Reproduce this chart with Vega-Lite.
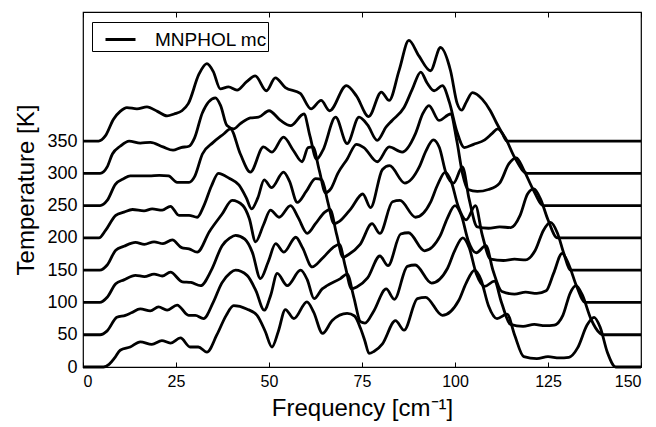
{
"$schema": "https://vega.github.io/schema/vega-lite/v6.json",
"width": 558, "height": 355,
"autosize": {"type": "none"},
"padding": {"left": 83, "top": 12, "right": 15, "bottom": 60},
"config": {
  "view": {"stroke": "black", "strokeWidth": 1.2},
  "font": "Liberation Sans",
  "axis": {"grid": false, "domain": false, "tickColor": "black", "labelColor": "black", "titleColor": "black", "titleFontWeight": "normal", "labelFont": "Liberation Sans", "titleFont": "Liberation Sans", "titleFontSize": 24, "tickWidth": 1}
},
"data": {"values": [
{"T":0,"f":0,"v":0},{"T":0,"f":5.5,"v":0},{"T":0,"f":7,"v":4},{"T":0,"f":8.5,"v":14},{"T":0,"f":10,"v":26},{"T":0,"f":12.7,"v":31},{"T":0,"f":15.4,"v":39},{"T":0,"f":18.5,"v":35},{"T":0,"f":21.2,"v":41},{"T":0,"f":23.5,"v":37},{"T":0,"f":26.2,"v":45},{"T":0,"f":28.8,"v":31},{"T":0,"f":31,"v":31},{"T":0,"f":33.3,"v":23},{"T":0,"f":36,"v":50},{"T":0,"f":38.5,"v":80},{"T":0,"f":40.5,"v":95},{"T":0,"f":44,"v":90},{"T":0,"f":46.8,"v":80},{"T":0,"f":49,"v":55},{"T":0,"f":50.8,"v":31},{"T":0,"f":52.5,"v":55},{"T":0,"f":54.4,"v":89},{"T":0,"f":56.7,"v":75},{"T":0,"f":60.2,"v":101},{"T":0,"f":62,"v":85},{"T":0,"f":64.4,"v":52},{"T":0,"f":67,"v":72},{"T":0,"f":71,"v":83},{"T":0,"f":73,"v":79},{"T":0,"f":74.6,"v":60},{"T":0,"f":75.8,"v":40},{"T":0,"f":76.9,"v":21},{"T":0,"f":78.2,"v":24},{"T":0,"f":80.5,"v":36},{"T":0,"f":84,"v":72},{"T":0,"f":86.3,"v":57},{"T":0,"f":89.9,"v":106},{"T":0,"f":92.1,"v":108},{"T":0,"f":96.6,"v":80},{"T":0,"f":101,"v":103},{"T":0,"f":103,"v":130},{"T":0,"f":105.3,"v":150},{"T":0,"f":107,"v":135},{"T":0,"f":109,"v":95},{"T":0,"f":111.3,"v":75},{"T":0,"f":114,"v":82},{"T":0,"f":116,"v":50},{"T":0,"f":118.5,"v":16},{"T":0,"f":122,"v":13},{"T":0,"f":125,"v":16},{"T":0,"f":128,"v":14},{"T":0,"f":130.6,"v":15},{"T":0,"f":133,"v":30},{"T":0,"f":135.5,"v":65},{"T":0,"f":137.4,"v":77},{"T":0,"f":139,"v":62},{"T":0,"f":141,"v":22},{"T":0,"f":143.2,"v":0},{"T":0,"f":150,"v":0},
{"T":50,"f":0,"v":50},{"T":50,"f":4.6,"v":50},{"T":50,"f":6.5,"v":56},{"T":50,"f":9.1,"v":77},{"T":50,"f":11.4,"v":80},{"T":50,"f":13,"v":84},{"T":50,"f":15.4,"v":90},{"T":50,"f":18.1,"v":87},{"T":50,"f":20.3,"v":93},{"T":50,"f":22.6,"v":88},{"T":50,"f":25.3,"v":96},{"T":50,"f":28.4,"v":80},{"T":50,"f":30.2,"v":80},{"T":50,"f":32.4,"v":75},{"T":50,"f":35,"v":100},{"T":50,"f":37.3,"v":130},{"T":50,"f":39.6,"v":146},{"T":50,"f":41,"v":150},{"T":50,"f":44.1,"v":142},{"T":50,"f":46.5,"v":118},{"T":50,"f":48.7,"v":88},{"T":50,"f":50.5,"v":112},{"T":50,"f":52.2,"v":145},{"T":50,"f":54.9,"v":126},{"T":50,"f":58.5,"v":150},{"T":50,"f":60.3,"v":135},{"T":50,"f":62.1,"v":106},{"T":50,"f":64.3,"v":121},{"T":50,"f":65.6,"v":126},{"T":50,"f":69.2,"v":137},{"T":50,"f":71,"v":144},{"T":50,"f":72.8,"v":108},{"T":50,"f":74.6,"v":70},{"T":50,"f":75.8,"v":68},{"T":50,"f":78.1,"v":86},{"T":50,"f":81.5,"v":121},{"T":50,"f":83.7,"v":105},{"T":50,"f":87.2,"v":156},{"T":50,"f":89.3,"v":158},{"T":50,"f":93.7,"v":130},{"T":50,"f":98,"v":153},{"T":50,"f":99.9,"v":180},{"T":50,"f":102.1,"v":200},{"T":50,"f":103.8,"v":185},{"T":50,"f":105.7,"v":145},{"T":50,"f":108,"v":125},{"T":50,"f":110.6,"v":133},{"T":50,"f":112.5,"v":100},{"T":50,"f":114.9,"v":66},{"T":50,"f":118.3,"v":63},{"T":50,"f":121.3,"v":66},{"T":50,"f":124.2,"v":64},{"T":50,"f":126.7,"v":65},{"T":50,"f":129,"v":80},{"T":50,"f":131,"v":115},{"T":50,"f":132.5,"v":126},{"T":50,"f":134.2,"v":112},{"T":50,"f":136.5,"v":75},{"T":50,"f":139,"v":52},{"T":50,"f":139.6,"v":50},{"T":50,"f":150,"v":50},
{"T":100,"f":0,"v":100},{"T":100,"f":4.5,"v":100},{"T":100,"f":6.5,"v":108},{"T":100,"f":8.8,"v":129},{"T":100,"f":11,"v":135},{"T":100,"f":14.1,"v":142},{"T":100,"f":16.5,"v":140},{"T":100,"f":19.1,"v":144},{"T":100,"f":21.3,"v":141},{"T":100,"f":23.5,"v":147},{"T":100,"f":26.7,"v":132},{"T":100,"f":29,"v":131},{"T":100,"f":31.6,"v":126},{"T":100,"f":34.5,"v":150},{"T":100,"f":37.4,"v":188},{"T":100,"f":39.5,"v":200},{"T":100,"f":41,"v":204},{"T":100,"f":43.5,"v":198},{"T":100,"f":45.5,"v":178},{"T":100,"f":47.7,"v":137},{"T":100,"f":49.8,"v":163},{"T":100,"f":51.8,"v":191},{"T":100,"f":54,"v":178},{"T":100,"f":57.2,"v":201},{"T":100,"f":59,"v":185},{"T":100,"f":61.6,"v":155},{"T":100,"f":64.3,"v":168},{"T":100,"f":67.2,"v":185},{"T":100,"f":68.9,"v":190},{"T":100,"f":70.5,"v":156},{"T":100,"f":72.2,"v":121},{"T":100,"f":73.6,"v":124},{"T":100,"f":76.5,"v":138},{"T":100,"f":79.8,"v":172},{"T":100,"f":82,"v":157},{"T":100,"f":85.4,"v":206},{"T":100,"f":87.5,"v":208},{"T":100,"f":91.8,"v":180},{"T":100,"f":96,"v":203},{"T":100,"f":97.9,"v":230},{"T":100,"f":100,"v":250},{"T":100,"f":101.7,"v":235},{"T":100,"f":103.6,"v":195},{"T":100,"f":105.7,"v":177},{"T":100,"f":108.3,"v":188},{"T":100,"f":110.2,"v":150},{"T":100,"f":112.6,"v":117},{"T":100,"f":116,"v":113},{"T":100,"f":119,"v":116},{"T":100,"f":122,"v":114},{"T":100,"f":124.5,"v":118},{"T":100,"f":126.5,"v":145},{"T":100,"f":128.8,"v":176},{"T":100,"f":130.5,"v":160},{"T":100,"f":132.7,"v":125},{"T":100,"f":135,"v":100},{"T":100,"f":150,"v":100},
{"T":150,"f":0,"v":150},{"T":150,"f":4.5,"v":150},{"T":150,"f":6.5,"v":158},{"T":150,"f":8.8,"v":181},{"T":150,"f":11,"v":187},{"T":150,"f":14.1,"v":193},{"T":150,"f":16.5,"v":190},{"T":150,"f":19.1,"v":194},{"T":150,"f":21.5,"v":191},{"T":150,"f":24,"v":197},{"T":150,"f":26.5,"v":185},{"T":150,"f":28.5,"v":183},{"T":150,"f":30.7,"v":178},{"T":150,"f":34,"v":210},{"T":150,"f":37.4,"v":237},{"T":150,"f":40.1,"v":258},{"T":150,"f":43,"v":250},{"T":150,"f":44.7,"v":230},{"T":150,"f":46.4,"v":194},{"T":150,"f":48.5,"v":220},{"T":150,"f":50.4,"v":243},{"T":150,"f":52.7,"v":232},{"T":150,"f":55.8,"v":250},{"T":150,"f":57.8,"v":232},{"T":150,"f":60.3,"v":207},{"T":150,"f":62.5,"v":222},{"T":150,"f":65,"v":240},{"T":150,"f":66.4,"v":244},{"T":150,"f":68.2,"v":205},{"T":150,"f":69.9,"v":170},{"T":150,"f":71.3,"v":174},{"T":150,"f":74.5,"v":190},{"T":150,"f":77.7,"v":222},{"T":150,"f":79.8,"v":207},{"T":150,"f":83.2,"v":256},{"T":150,"f":85.2,"v":258},{"T":150,"f":89.4,"v":232},{"T":150,"f":93.4,"v":255},{"T":150,"f":95.3,"v":282},{"T":150,"f":97.4,"v":302},{"T":150,"f":99,"v":287},{"T":150,"f":100.8,"v":250},{"T":150,"f":103,"v":228},{"T":150,"f":105.5,"v":250},{"T":150,"f":107.3,"v":205},{"T":150,"f":109.6,"v":167},{"T":150,"f":113,"v":165},{"T":150,"f":116,"v":167},{"T":150,"f":119,"v":166},{"T":150,"f":121.5,"v":180},{"T":150,"f":123.8,"v":212},{"T":150,"f":125.7,"v":224},{"T":150,"f":127.5,"v":208},{"T":150,"f":129.3,"v":175},{"T":150,"f":131,"v":150},{"T":150,"f":150,"v":150},
{"T":200,"f":0,"v":200},{"T":200,"f":4.3,"v":200},{"T":200,"f":6.1,"v":212},{"T":200,"f":8.8,"v":235},{"T":200,"f":11,"v":240},{"T":200,"f":13.3,"v":244},{"T":200,"f":16.4,"v":242},{"T":200,"f":18.6,"v":245},{"T":200,"f":21.3,"v":243},{"T":200,"f":23.5,"v":249},{"T":200,"f":25.8,"v":235},{"T":200,"f":28.5,"v":235},{"T":200,"f":30.7,"v":232},{"T":200,"f":32.5,"v":250},{"T":200,"f":34.5,"v":280},{"T":200,"f":36.4,"v":300},{"T":200,"f":39.4,"v":292},{"T":200,"f":41.9,"v":282},{"T":200,"f":43.9,"v":262},{"T":200,"f":45.3,"v":245},{"T":200,"f":47,"v":262},{"T":200,"f":48.7,"v":290},{"T":200,"f":50.7,"v":278},{"T":200,"f":53.9,"v":302},{"T":200,"f":55.5,"v":288},{"T":200,"f":57.6,"v":255},{"T":200,"f":60,"v":272},{"T":200,"f":62.5,"v":292},{"T":200,"f":64.2,"v":290},{"T":200,"f":65.8,"v":256},{"T":200,"f":67.5,"v":222},{"T":200,"f":69,"v":226},{"T":200,"f":72,"v":245},{"T":200,"f":75.2,"v":268},{"T":200,"f":77.3,"v":247},{"T":200,"f":80.5,"v":306},{"T":200,"f":82.4,"v":312},{"T":200,"f":86.5,"v":285},{"T":200,"f":90.4,"v":310},{"T":200,"f":92.2,"v":335},{"T":200,"f":94.2,"v":352},{"T":200,"f":95.8,"v":340},{"T":200,"f":97.6,"v":300},{"T":200,"f":99.6,"v":285},{"T":200,"f":102,"v":310},{"T":200,"f":103.8,"v":260},{"T":200,"f":106,"v":217},{"T":200,"f":109,"v":215},{"T":200,"f":112,"v":217},{"T":200,"f":115,"v":216},{"T":200,"f":117.5,"v":235},{"T":200,"f":119.5,"v":268},{"T":200,"f":121.2,"v":276},{"T":200,"f":123,"v":260},{"T":200,"f":125,"v":228},{"T":200,"f":127.5,"v":200},{"T":200,"f":150,"v":200},
{"T":250,"f":0,"v":250},{"T":250,"f":4.6,"v":250},{"T":250,"f":6.5,"v":258},{"T":250,"f":8.7,"v":283},{"T":250,"f":11,"v":292},{"T":250,"f":12.7,"v":296},{"T":250,"f":15,"v":296},{"T":250,"f":17.8,"v":296},{"T":250,"f":20.5,"v":297},{"T":250,"f":23,"v":296},{"T":250,"f":25.3,"v":286},{"T":250,"f":28.5,"v":286},{"T":250,"f":30,"v":295},{"T":250,"f":32.1,"v":330},{"T":250,"f":35,"v":348},{"T":250,"f":37.8,"v":361},{"T":250,"f":39.6,"v":369},{"T":250,"f":42.3,"v":330},{"T":250,"f":45,"v":302},{"T":250,"f":48.5,"v":341},{"T":250,"f":50.8,"v":333},{"T":250,"f":53.9,"v":356},{"T":250,"f":56.6,"v":335},{"T":250,"f":58.9,"v":318},{"T":250,"f":60.5,"v":340},{"T":250,"f":61.8,"v":341},{"T":250,"f":63.5,"v":305},{"T":250,"f":65.2,"v":270},{"T":250,"f":66.6,"v":276},{"T":250,"f":68.5,"v":300},{"T":250,"f":71,"v":322},{"T":250,"f":73.5,"v":345},{"T":250,"f":75.5,"v":340},{"T":250,"f":79.1,"v":318},{"T":250,"f":82.3,"v":341},{"T":250,"f":85.8,"v":333},{"T":250,"f":89.4,"v":362},{"T":250,"f":91.3,"v":392},{"T":250,"f":93,"v":405},{"T":250,"f":95.7,"v":382},{"T":250,"f":98.8,"v":392},{"T":250,"f":100.5,"v":350},{"T":250,"f":102,"v":300},{"T":250,"f":103.5,"v":275},{"T":250,"f":106,"v":272},{"T":250,"f":109,"v":275},{"T":250,"f":112,"v":285},{"T":250,"f":114.5,"v":315},{"T":250,"f":116.5,"v":324},{"T":250,"f":118.5,"v":305},{"T":250,"f":121,"v":275},{"T":250,"f":123.8,"v":250},{"T":250,"f":150,"v":250},
{"T":300,"f":0,"v":300},{"T":300,"f":4.6,"v":300},{"T":300,"f":6.5,"v":310},{"T":300,"f":7.9,"v":330},{"T":300,"f":10,"v":342},{"T":300,"f":12.4,"v":350},{"T":300,"f":15.4,"v":347},{"T":300,"f":18.1,"v":348},{"T":300,"f":21.5,"v":341},{"T":300,"f":24.2,"v":336},{"T":300,"f":26.3,"v":340},{"T":300,"f":28.5,"v":342},{"T":300,"f":30,"v":355},{"T":300,"f":32.1,"v":394},{"T":300,"f":35.6,"v":417},{"T":300,"f":37,"v":405},{"T":300,"f":38.7,"v":374},{"T":300,"f":40.5,"v":369},{"T":300,"f":42.3,"v":377},{"T":300,"f":45,"v":386},{"T":300,"f":47.2,"v":387},{"T":300,"f":50,"v":397},{"T":300,"f":53.1,"v":382},{"T":300,"f":55.8,"v":374},{"T":300,"f":59.4,"v":392},{"T":300,"f":61,"v":358},{"T":300,"f":62.8,"v":322},{"T":300,"f":64.5,"v":336},{"T":300,"f":67.9,"v":387},{"T":300,"f":71,"v":346},{"T":300,"f":74.2,"v":387},{"T":300,"f":76.5,"v":375},{"T":300,"f":79.1,"v":351},{"T":300,"f":81.5,"v":372},{"T":300,"f":83.1,"v":382},{"T":300,"f":86.3,"v":402},{"T":300,"f":88.5,"v":430},{"T":300,"f":90.8,"v":457},{"T":300,"f":92.5,"v":440},{"T":300,"f":94.4,"v":428},{"T":300,"f":96.6,"v":436},{"T":300,"f":98.5,"v":410},{"T":300,"f":100.5,"v":365},{"T":300,"f":102.5,"v":340},{"T":300,"f":105,"v":345},{"T":300,"f":108,"v":352},{"T":300,"f":110,"v":362},{"T":300,"f":111.5,"v":369},{"T":300,"f":113.5,"v":355},{"T":300,"f":116,"v":325},{"T":300,"f":119.4,"v":300},{"T":300,"f":150,"v":300},
{"T":350,"f":0,"v":350},{"T":350,"f":4.2,"v":350},{"T":350,"f":6,"v":358},{"T":350,"f":8.2,"v":384},{"T":350,"f":10,"v":396},{"T":350,"f":11.8,"v":402},{"T":350,"f":14.5,"v":400},{"T":350,"f":17.2,"v":403},{"T":350,"f":20,"v":396},{"T":350,"f":22.6,"v":389},{"T":350,"f":24.5,"v":392},{"T":350,"f":26.6,"v":397},{"T":350,"f":28.3,"v":408},{"T":350,"f":31.2,"v":454},{"T":350,"f":33.3,"v":470},{"T":350,"f":35,"v":458},{"T":350,"f":36.9,"v":431},{"T":350,"f":39.1,"v":434},{"T":350,"f":41.4,"v":429},{"T":350,"f":44,"v":442},{"T":350,"f":46.3,"v":451},{"T":350,"f":49.3,"v":428},{"T":350,"f":51.7,"v":448},{"T":350,"f":54.4,"v":433},{"T":350,"f":58.4,"v":424},{"T":350,"f":61.3,"v":400},{"T":350,"f":64,"v":413},{"T":350,"f":66.3,"v":397},{"T":350,"f":70.8,"v":436},{"T":350,"f":73.5,"v":420},{"T":350,"f":76.8,"v":388},{"T":350,"f":80.2,"v":426},{"T":350,"f":82.3,"v":413},{"T":350,"f":85,"v":460},{"T":350,"f":87.6,"v":506},{"T":350,"f":90.3,"v":482},{"T":350,"f":93.4,"v":459},{"T":350,"f":96.1,"v":495},{"T":350,"f":98.8,"v":459},{"T":350,"f":100.6,"v":408},{"T":350,"f":101.8,"v":398},{"T":350,"f":103,"v":410},{"T":350,"f":104.7,"v":425},{"T":350,"f":107.3,"v":415},{"T":350,"f":109.5,"v":397},{"T":350,"f":111,"v":380},{"T":350,"f":112.7,"v":362},{"T":350,"f":114,"v":350},{"T":350,"f":150,"v":350}
]},
"layer": [
  {
    "mark": {"type": "line", "interpolate": "monotone", "strokeWidth": 2.8},
    "encoding": {
      "x": {"field": "f", "type": "quantitative", "scale": {"domain": [0, 150], "nice": false},
            "axis": {"orient": "bottom", "values": [0, 25, 50, 75, 100, 125, 150], "tickSize": -5, "labelPadding": 11, "labelFontSize": 16, "title": "Frequency [cm⁻¹]", "titlePadding": 7}},
      "y": {"field": "v", "type": "quantitative", "scale": {"domain": [0, 550], "nice": false},
            "axis": {"values": [0, 50, 100, 150, 200, 250, 300, 350], "tickSize": -5, "labelPadding": 11, "labelFontSize": 18, "title": "Temperature [K]", "titlePadding": 8}},
      "detail": {"field": "T", "type": "nominal"},
      "color": {"datum": "MNPHOL mc", "scale": {"range": ["black"]},
                "legend": {"orient": "none", "legendX": 9, "legendY": 10, "title": null, "strokeColor": "black", "fillColor": "white", "padding": 1, "symbolOffset": 11, "symbolType": "stroke", "symbolStrokeWidth": 3, "symbolSize": 900, "symbolStrokeColor": "black", "labelFontSize": 19, "labelColor": "black", "labelOffset": 18, "labelFont": "Liberation Sans", "labelExpr": "datum.label + '\u00a0'", "cornerRadius": 0}}
    }
  },
  {
    "mark": {"type": "line", "opacity": 0},
    "encoding": {
      "x": {"field": "f", "type": "quantitative", "axis": {"orient": "top", "values": [0, 25, 50, 75, 100, 125, 150], "tickSize": -5, "labels": false, "title": null}},
      "y": {"field": "v", "type": "quantitative", "axis": null},
      "detail": {"field": "T", "type": "nominal"}
    }
  }
],
"resolve": {"axis": {"x": "independent", "y": "independent"}}
}
